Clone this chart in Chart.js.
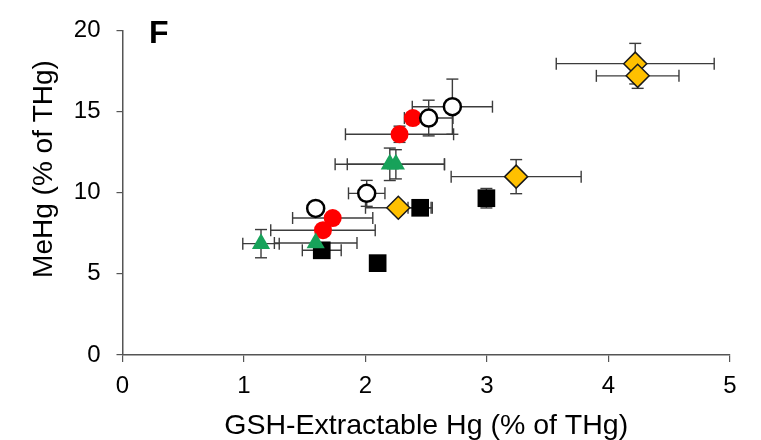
<!DOCTYPE html>
<html>
<head>
<meta charset="utf-8">
<script src="https://cdn.jsdelivr.net/npm/chart.js@4.4.1/dist/chart.umd.min.js"></script>
<style>
  html, body { margin: 0; padding: 0; background: #fff; }
  #wrap { width: 761px; height: 440px; }
</style>
</head>
<body>
<div id="wrap"><canvas id="c" width="761" height="440"></canvas></div>
<script>
// ---- Data ----
const panelLabel = 'F';
const xTitle = 'GSH-Extractable Hg (% of THg)';
const yTitle = 'MeHg (% of THg)';
const xTicks = [0, 1, 2, 3, 4, 5];
const yTicks = [0, 5, 10, 15, 20];

// open circles
const openX    = [2.01, 1.59, 2.52, 2.715];
const openY    = [9.96, 9.03, 14.6, 15.3];
const openErrX = [0.15, 0, 0.2, 0.33];
const openErrY = [0.8, 0, 1.1, 1.7];

// green triangles
const triX    = [1.14, 1.59, 2.20, 2.25];
const triY    = [6.86, 6.9, 11.75, 11.75];
const triErrX = [0.15, 0.34, 0.45, 0.40];
const triErrY = [0.87, 0, 1.0, 0.9];

// red circles
const redX    = [1.65, 1.73, 2.28, 2.39];
const redY    = [7.69, 8.44, 13.6, 14.6];
const redErrX = [0.43, 0.33, 0.445, 0];
const redErrY = [0, 0, 0.5, 0];

// gold diamonds
const diaX    = [2.27, 3.24, 4.22, 4.24];
const diaY    = [9.07, 10.99, 17.95, 17.2];
const diaErrX = [0.27, 0.535, 0.65, 0.34];
const diaErrY = [0.35, 1.05, 1.25, 0.77];

// black squares
const sqX    = [1.64, 2.10, 2.45, 2.995];
const sqY    = [6.45, 5.66, 9.07, 9.66];
const sqErrX = [0.16, 0, 0.1, 0];
const sqErrY = [0, 0, 0, 0.6];

function pts(xs, ys) { return xs.map((v, i) => ({ x: v, y: ys[i] })); }

const FONT = "'Liberation Sans', Arial, Helvetica, sans-serif";

const errorBars = {
  id: 'errorBars',
  beforeDatasetsDraw(chart) {
    const { ctx } = chart;
    const xs = chart.scales.x, ys = chart.scales.y;
    const cap = 6;
    ctx.save();
    ctx.strokeStyle = '#3c3c3c';
    ctx.lineWidth = 1.4;
    const seg = (a, b, c, d) => { ctx.beginPath(); ctx.moveTo(a, b); ctx.lineTo(c, d); ctx.stroke(); };
    chart.data.datasets.forEach(ds => {
      ds.data.forEach((p, i) => {
        const px = xs.getPixelForValue(p.x), py = ys.getPixelForValue(p.y);
        const ex = ds.errX[i], ey = ds.errY[i];
        if (ex > 0) {
          const l = xs.getPixelForValue(p.x - ex), r = xs.getPixelForValue(p.x + ex);
          seg(l, py, r, py);
          seg(l, py - cap, l, py + cap);
          seg(r, py - cap, r, py + cap);
        }
        if (ey > 0) {
          const t = ys.getPixelForValue(p.y + ey), b = ys.getPixelForValue(p.y - ey);
          seg(px, t, px, b);
          seg(px - cap, t, px + cap, t);
          seg(px - cap, b, px + cap, b);
        }
      });
    });
    ctx.restore();
  }
};

const textLabels = {
  id: 'textLabels',
  afterDraw(chart) {
    const { ctx } = chart;
    ctx.save();
    ctx.fillStyle = '#000';
    ctx.font = "bold 32px " + FONT;
    ctx.textAlign = 'left';
    ctx.textBaseline = 'alphabetic';
    ctx.fillText(panelLabel, 149, 43);
    ctx.translate(44, 169);
    ctx.rotate(-Math.PI / 2);
    ctx.font = "28px " + FONT;
    ctx.textAlign = 'center';
    ctx.textBaseline = 'middle';
    ctx.fillText(yTitle, 0, 0);
    ctx.restore();
  }
};

const common = { showLine: false, clip: false };

new Chart(document.getElementById('c'), {
  type: 'scatter',
  data: {
    datasets: [
      Object.assign({ label: 'open', data: pts(openX, openY), errX: openErrX, errY: openErrY,
        pointStyle: 'circle', pointRadius: 8.5, pointBackgroundColor: '#ffffff',
        pointBorderColor: '#000000', pointBorderWidth: 2.5 }, common),
      Object.assign({ label: 'tri', data: pts(triX, triY), errX: triErrX, errY: triErrY,
        pointStyle: 'triangle', pointRadius: 10.5, pointBackgroundColor: '#17a25a',
        pointBorderColor: '#17a25a', pointBorderWidth: 0 }, common),
      Object.assign({ label: 'red', data: pts(redX, redY), errX: redErrX, errY: redErrY,
        pointStyle: 'circle', pointRadius: 9, pointBackgroundColor: '#ff0000',
        pointBorderColor: '#ff0000', pointBorderWidth: 0 }, common),
      Object.assign({ label: 'dia', data: pts(diaX, diaY), errX: diaErrX, errY: diaErrY,
        pointStyle: 'rectRot', pointRadius: 11.5, pointBackgroundColor: '#ffc000',
        pointBorderColor: '#1a1a1a', pointBorderWidth: 1.5 }, common),
      Object.assign({ label: 'sq', data: pts(sqX, sqY), errX: sqErrX, errY: sqErrY,
        pointStyle: 'rect', pointRadius: 12.5, pointBackgroundColor: '#000000',
        pointBorderColor: '#000000', pointBorderWidth: 0 }, common)
    ]
  },
  options: {
    responsive: false,
    animation: false,
    events: [],
    layout: { padding: { top: 17, right: 31, left: 0, bottom: 0 } },
    plugins: { legend: { display: false }, tooltip: { enabled: false } },
    scales: {
      x: {
        type: 'linear', min: 0, max: 5,
        afterBuildTicks(s) { s.ticks = xTicks.map(v => ({ value: v })); },
        afterFit(s) { s.height = 85; },
        border: { display: true, color: '#555', width: 1.5 },
        grid: { drawOnChartArea: false, drawTicks: true, tickLength: 7, color: '#555', lineWidth: 1.2 },
        ticks: { color: '#000', font: { family: FONT, size: 24 }, padding: 10, maxRotation: 0 },
        title: { display: true, text: xTitle, color: '#000', font: { family: FONT, size: 28.5 }, padding: { top: 0, bottom: -3 } }
      },
      y: {
        type: 'linear', min: 0, max: 20,
        afterBuildTicks(s) { s.ticks = yTicks.map(v => ({ value: v })); },
        afterFit(s) { s.width = 122.5; },
        border: { display: true, color: '#555', width: 1.5 },
        grid: { drawOnChartArea: false, drawTicks: true, tickLength: 6, color: '#555', lineWidth: 1.2 },
        ticks: { color: '#000', font: { family: FONT, size: 24 }, padding: 16 }
      }
    }
  },
  plugins: [errorBars, textLabels]
});
</script>
</body>
</html>
